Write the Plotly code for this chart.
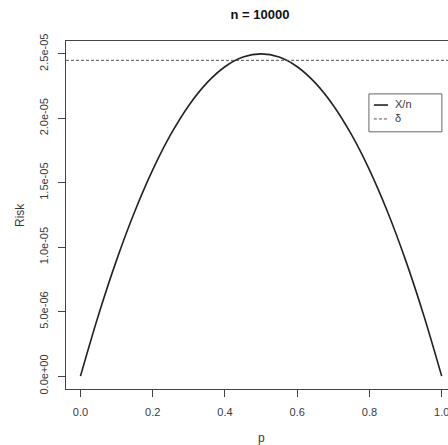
import plotly.graph_objects as go

# data
p_vals = [0.0, 0.05, 0.1, 0.15, 0.2, 0.25, 0.3, 0.35, 0.4, 0.45, 0.5,
          0.55, 0.6, 0.65, 0.7, 0.75, 0.8, 0.85, 0.9, 0.95, 1.0]
risk_vals = [0.0, 4.75e-06, 9.0e-06, 1.275e-05, 1.6e-05, 1.875e-05, 2.1e-05,
             2.275e-05, 2.4e-05, 2.475e-05, 2.5e-05, 2.475e-05, 2.4e-05,
             2.275e-05, 2.1e-05, 1.875e-05, 1.6e-05, 1.275e-05, 9.0e-06,
             4.75e-06, 0.0]
delta = 2.45e-05
x_ticks = [0.0, 0.2, 0.4, 0.6, 0.8, 1.0]
x_ticktext = ["0.0", "0.2", "0.4", "0.6", "0.8", "1.0"]
y_ticks = [0.0, 5e-06, 1e-05, 1.5e-05, 2e-05, 2.5e-05]
y_ticktext = ["0.0e+00", "5.0e-06", "1.0e-05", "1.5e-05", "2.0e-05", "2.5e-05"]
legend_labels = ["X/n", "δ"]

FONT = "Liberation Sans, Arial, sans-serif"
TXT = "#3a3a3a"
LINE = "#222222"

fig = go.Figure()
fig.add_trace(go.Scatter(x=p_vals, y=risk_vals, mode="lines",
                         line=dict(color=LINE, width=1.6, shape="spline"),
                         showlegend=False, hoverinfo="skip"))
fig.add_hline(y=delta, line=dict(color="#555555", width=1, dash="3px,2px"))

# manual R-style legend
fig.add_shape(type="rect", xref="paper", yref="paper", x0=0.793, x1=0.984,
              y0=0.739, y1=0.848, line=dict(color="#666666", width=1),
              fillcolor="white")
fig.add_shape(type="line", xref="paper", yref="paper", x0=0.806, x1=0.843,
              y0=0.816, y1=0.816, line=dict(color=LINE, width=1.6))
fig.add_shape(type="line", xref="paper", yref="paper", x0=0.806, x1=0.843,
              y0=0.776, y1=0.776, line=dict(color="#555555", width=1, dash="3px,2px"))
for lab, yy in zip(legend_labels, [0.818, 0.778]):
    fig.add_annotation(text=lab, xref="paper", yref="paper", x=0.855, y=yy,
                       xanchor="left", yanchor="middle", showarrow=False,
                       font=dict(family=FONT, size=11, color=TXT))

# axis titles (R style positions)
fig.add_annotation(text="p", xref="paper", yref="paper",
                   x=(261 - 66) / 382, y=-(438 - 389) / 348,
                   xanchor="center", yanchor="middle", showarrow=False,
                   font=dict(family=FONT, size=12, color=TXT))
fig.add_annotation(text="Risk", xref="paper", yref="paper",
                   x=-(66 - 20) / 382, y=(389 - 215) / 348, textangle=-90,
                   xanchor="center", yanchor="middle", showarrow=False,
                   font=dict(family=FONT, size=12, color=TXT))

fig.update_layout(
    width=448, height=445,
    margin=dict(l=66, r=0, t=41, b=56, autoexpand=False),
    paper_bgcolor="white", plot_bgcolor="white",
    font=dict(family=FONT, size=11, color=TXT),
    title=dict(text="<b>n = 10000</b>", x=260 / 448, xanchor="center",
               y=1 - 14 / 445, yanchor="middle",
               font=dict(family=FONT, size=13, color="#111111")),
    showlegend=False,
)
fig.update_xaxes(range=[-0.04, 1.0 + (448 - 441.7) / 361.0],
                 tickvals=x_ticks, ticktext=x_ticktext,
                 ticks="outside", ticklen=7, tickcolor="#444444",
                 showgrid=False, zeroline=False, automargin=False,
                 ticklabeloverflow="allow",
                 showline=True, mirror=True, linecolor="#444444", linewidth=1,
                 ticklabelstandoff=6)
fig.update_yaxes(range=[-1.0e-06, 2.6e-05],
                 tickvals=y_ticks, ticktext=y_ticktext, tickangle=-90,
                 ticks="outside", ticklen=7, tickcolor="#444444",
                 showgrid=False, zeroline=False, automargin=False,
                 ticklabeloverflow="allow",
                 showline=True, mirror=False, linecolor="#444444", linewidth=1,
                 ticklabelstandoff=6)

fig.write_html("out.html",
               config={"displayModeBar": False},
               post_script="document.body.style.margin='0';"
                           "document.body.style.overflow='hidden';")
